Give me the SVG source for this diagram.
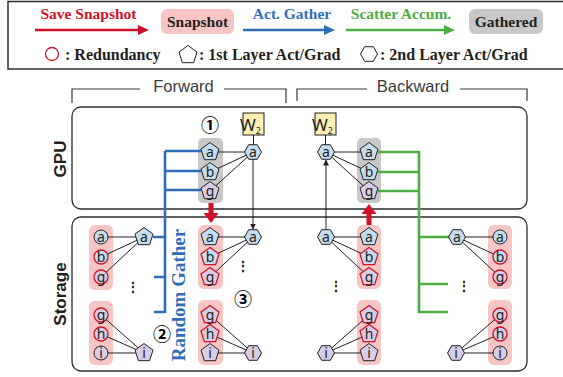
<svg xmlns="http://www.w3.org/2000/svg" xmlns:xlink="http://www.w3.org/1999/xlink" width="563" height="377" viewBox="0 0 563 377">
<style>
.frame{fill:none;stroke:#2b2b2b;stroke-width:1.3}
.brk{fill:none;stroke:#3a3a3a;stroke-width:1.2}
.lg{font-family:"Liberation Serif",serif;font-weight:bold;font-size:15.5px}
.lg2{font-family:"Liberation Serif",serif;font-weight:bold;font-size:16px;fill:#231f20}
.hd{font-family:"Liberation Sans",sans-serif;font-size:16.5px;fill:#3a3a3a}
.side{font-family:"Liberation Sans",sans-serif;font-weight:bold;font-size:17px;fill:#231f20}
.lbl{font-family:"Noto Sans","DejaVu Sans",sans-serif;font-size:14px;fill:#231f20;text-anchor:middle}
.num{font-family:"Noto Sans CJK JP","DejaVu Sans",sans-serif;font-weight:bold;font-size:18px;fill:#000;text-anchor:middle}
.dots{font-family:"Liberation Sans",sans-serif;font-weight:bold;font-size:14px;fill:#231f20;text-anchor:middle}
.pink{fill:#f7c5c3}
.gray{fill:#c8c8c8}
.nb{fill:#c3ddef}
.nl{fill:#d9cce6}
.sk{stroke:#231f20;stroke-width:1}
.sr{stroke:#d0112b;stroke-width:1.3}
.ln{stroke:#231f20;stroke-width:1;fill:none}
.blue{stroke:#2f6db7;stroke-width:2.6;fill:none}
.green{stroke:#4cad43;stroke-width:2.6;fill:none}
.w2{fill:#fdf0b4;stroke:#231f20;stroke-width:1}
.w2t{font-family:"Noto Sans","DejaVu Sans",sans-serif;font-size:17px;fill:#231f20}
</style>
<defs>
<polygon id="pent" points="0,-9.5 9,-2.9 5.6,7.7 -5.6,7.7 -9,-2.9"/>
<polygon id="hex" points="-8.5,0 -4.3,-7.3 4.3,-7.3 8.5,0 4.3,7.3 -4.3,7.3"/>
<circle id="circ" r="7"/>
<marker id="ah" markerWidth="6" markerHeight="6" refX="5.5" refY="3" orient="auto" markerUnits="userSpaceOnUse"><path d="M0,0 L6,3 L0,6 z" fill="#231f20"/></marker>
</defs>

<g id="legend">
<rect x="8" y="1.5" width="570" height="67.5" fill="none" stroke="#2b2b2b" stroke-width="1.5"/>
<text class="lg" x="88.5" y="19" text-anchor="middle" fill="#d0112b">Save Snapshot</text>
<line x1="35" y1="30" x2="140" y2="30" stroke="#d0112b" stroke-width="2.6"/>
<polygon points="138,25 149,30 138,35" fill="#d0112b"/>
<rect x="161" y="9" width="73" height="25" rx="6" class="pink"/>
<text class="lg" x="197.5" y="26.5" text-anchor="middle" fill="#231f20">Snapshot</text>
<text class="lg" x="292" y="19" text-anchor="middle" fill="#2f6db7">Act. Gather</text>
<line x1="243" y1="30" x2="326" y2="30" stroke="#2f6db7" stroke-width="2.6"/>
<polygon points="324,25 335,30 324,35" fill="#2f6db7"/>
<text class="lg" x="401" y="19" text-anchor="middle" fill="#4cad43">Scatter Accum.</text>
<line x1="346" y1="30" x2="446" y2="30" stroke="#4cad43" stroke-width="2.6"/>
<polygon points="444,25 455,30 444,35" fill="#4cad43"/>
<rect x="469" y="9" width="74" height="25" rx="6" class="gray"/>
<text class="lg" x="506" y="26.5" text-anchor="middle" fill="#231f20">Gathered</text>
<circle cx="52" cy="54" r="6.5" fill="none" stroke="#d0112b" stroke-width="1.3"/>
<text class="lg2" x="65" y="59.5">: Redundancy</text>
<use xlink:href="#pent" x="188" y="55" fill="none" stroke="#231f20" stroke-width="1"/>
<text class="lg2" x="199" y="59.5">: 1st Layer Act/Grad</text>
<use xlink:href="#hex" x="369" y="54" fill="none" stroke="#231f20" stroke-width="1"/>
<text class="lg2" x="380" y="59.5">: 2nd Layer Act/Grad</text>
</g>

<g id="headers">
<path class="brk" d="M72,103 V89 H140 M224,89 H286 V103"/>
<text class="hd" x="183.5" y="92" text-anchor="middle">Forward</text>
<path class="brk" d="M297,101 V89 H367 M460,89 H527 V101"/>
<text class="hd" x="413" y="92" text-anchor="middle">Backward</text>
</g>

<g id="gpu">
<rect class="frame" x="72" y="107" width="455" height="102" rx="9"/>
<text class="side" transform="translate(66,159) rotate(-90)" text-anchor="middle">GPU</text>
</g>
<g id="storage">
<rect class="frame" x="72" y="217" width="455" height="154" rx="9"/>
<text class="side" transform="translate(66,294) rotate(-90)" text-anchor="middle">Storage</text>
</g>

<g id="groups">
<rect x="198" y="138" width="25" height="65" rx="5" class="gray"/>
<rect x="357" y="138" width="24" height="65" rx="5" class="gray"/>
<rect x="89" y="225" width="24" height="65" rx="6" class="pink"/>
<rect x="89" y="301" width="24" height="64" rx="6" class="pink"/>
<rect x="198" y="225" width="25" height="64" rx="6" class="pink"/>
<rect x="198" y="300" width="25" height="65" rx="6" class="pink"/>
<rect x="357" y="225" width="24" height="64" rx="6" class="pink"/>
<rect x="357" y="300" width="24" height="65" rx="6" class="pink"/>
<rect x="488" y="225" width="24" height="64" rx="6" class="pink"/>
<rect x="488" y="300" width="24" height="65" rx="6" class="pink"/>
</g>

<g id="connectors">
<path class="ln" d="M253,152 L210,152 M253,152 L210,172 M253,152 L210,191"/>
<line class="ln" x1="253.5" y1="135" x2="253.5" y2="145"/>
<line class="ln" x1="253" y1="159" x2="253" y2="229" marker-end="url(#ah)"/>
<path class="ln" d="M326,152 L369,152 M326,152 L369,172 M326,152 L369,191"/>
<line class="ln" x1="325.5" y1="135" x2="325.5" y2="145"/>
<line class="ln" x1="326" y1="230" x2="326" y2="160" marker-end="url(#ah)"/>
<path class="ln" d="M144,237 L101,237 M144,237 L101,257 M144,237 L101,277"/>
<path class="ln" d="M144,353 L101,315 M144,353 L101,334 M144,353 L101,353"/>
<path class="ln" d="M253,237 L210,237 M253,237 L210,257 M253,237 L210,277"/>
<path class="ln" d="M253,353 L210,315 M253,353 L210,334 M253,353 L210,353"/>
<path class="ln" d="M326,237 L369,237 M326,237 L369,257 M326,237 L369,277"/>
<path class="ln" d="M326,353 L369,315 M326,353 L369,334 M326,353 L369,353"/>
<path class="ln" d="M457,237 L500,237 M457,237 L500,257 M457,237 L500,277"/>
<path class="ln" d="M456,353 L500,315 M456,353 L500,334 M456,353 L500,353"/>
<path class="blue" d="M165,151 V313 M165,151 H201 M165,171 H201 M165,190 H201 M153,237 H165 M154,277 H165 M154,312 H165"/>
<path class="green" d="M378,152 H419 M378,172 H419 M378,191 H419 M419,151 V313 M419,237 H449 M419,284 H448 M419,312 H448"/>
<rect x="208.5" y="203" width="5" height="11" fill="#d0112b"/>
<polygon points="203.5,213 218.5,213 211,223" fill="#d0112b"/>
<rect x="366.5" y="213" width="5" height="12" fill="#d0112b"/>
<polygon points="361.5,214 376.5,214 369,204" fill="#d0112b"/>
</g>

<g id="w2-fwd"><rect class="w2" x="243" y="113" width="21" height="22"/><text class="w2t" x="250.5" y="130.5" text-anchor="middle">W<tspan font-size="9" dy="3">2</tspan></text></g>
<g id="w2-bwd"><rect class="w2" x="315" y="113" width="21" height="22"/><text class="w2t" x="322.5" y="130.5" text-anchor="middle">W<tspan font-size="9" dy="3">2</tspan></text></g>

<g id="fwd-gpu-a1"><use xlink:href="#pent" x="210" y="152" class="nb sk"/><text class="lbl" x="210" y="156.5">a</text></g>
<g id="fwd-gpu-b1"><use xlink:href="#pent" x="210" y="172" class="nb sk"/><text class="lbl" x="210" y="176.5">b</text></g>
<g id="fwd-gpu-g1"><use xlink:href="#pent" x="210" y="191" class="nl sk"/><text class="lbl" x="210" y="195.5">g</text></g>
<g id="fwd-gpu-a2"><use xlink:href="#hex" x="253" y="152" class="nb sk"/><text class="lbl" x="253" y="156.5">a</text></g>

<g id="bwd-gpu-a2"><use xlink:href="#hex" x="326" y="152" class="nb sk"/><text class="lbl" x="326" y="156.5">a</text></g>
<g id="bwd-gpu-a1"><use xlink:href="#pent" x="369" y="152" class="nb sk"/><text class="lbl" x="369" y="156.5">a</text></g>
<g id="bwd-gpu-b1"><use xlink:href="#pent" x="369" y="172" class="nb sk"/><text class="lbl" x="369" y="176.5">b</text></g>
<g id="bwd-gpu-g1"><use xlink:href="#pent" x="369" y="191" class="nl sk"/><text class="lbl" x="369" y="195.5">g</text></g>

<g id="st-left-a0"><use xlink:href="#circ" x="101" y="237" class="nb sk"/><text class="lbl" x="101" y="241.5">a</text></g>
<g id="st-left-b0"><use xlink:href="#circ" x="101" y="257" class="nb sr"/><text class="lbl" x="101" y="261.5">b</text></g>
<g id="st-left-g0"><use xlink:href="#circ" x="101" y="277" class="nl sr"/><text class="lbl" x="101" y="281.5">g</text></g>
<g id="st-left-g0b"><use xlink:href="#circ" x="101" y="315" class="nl sr"/><text class="lbl" x="101" y="319.5">g</text></g>
<g id="st-left-h0"><use xlink:href="#circ" x="101" y="334" class="nl sr"/><text class="lbl" x="101" y="338.5">h</text></g>
<g id="st-left-i0"><use xlink:href="#circ" x="101" y="353" class="nl sk"/><text class="lbl" x="101" y="357.5">i</text></g>
<g id="st-left-a1"><use xlink:href="#pent" x="144" y="237" class="nb sk"/><text class="lbl" x="144" y="241.5">a</text></g>
<g id="st-left-i1"><use xlink:href="#pent" x="144" y="353" class="nl sk"/><text class="lbl" x="144" y="357.5">i</text></g>

<g id="st-fwd-a1"><use xlink:href="#pent" x="210" y="237" class="nb sk"/><text class="lbl" x="210" y="241.5">a</text></g>
<g id="st-fwd-b1"><use xlink:href="#pent" x="210" y="257" class="nb sr"/><text class="lbl" x="210" y="261.5">b</text></g>
<g id="st-fwd-g1"><use xlink:href="#pent" x="210" y="277" class="nl sr"/><text class="lbl" x="210" y="281.5">g</text></g>
<g id="st-fwd-g1b"><use xlink:href="#pent" x="210" y="315" class="nl sr"/><text class="lbl" x="210" y="319.5">g</text></g>
<g id="st-fwd-h1"><use xlink:href="#pent" x="210" y="334" class="nl sr"/><text class="lbl" x="210" y="338.5">h</text></g>
<g id="st-fwd-i1"><use xlink:href="#pent" x="210" y="353" class="nl sk"/><text class="lbl" x="210" y="357.5">i</text></g>
<g id="st-fwd-a2"><use xlink:href="#hex" x="253" y="237" class="nb sk"/><text class="lbl" x="253" y="241.5">a</text></g>
<g id="st-fwd-i2"><use xlink:href="#hex" x="253" y="353" class="nl sk"/><text class="lbl" x="253" y="357.5">i</text></g>

<g id="st-bwd-a2"><use xlink:href="#hex" x="326" y="237" class="nb sk"/><text class="lbl" x="326" y="241.5">a</text></g>
<g id="st-bwd-i2"><use xlink:href="#hex" x="326" y="353" class="nl sk"/><text class="lbl" x="326" y="357.5">i</text></g>
<g id="st-bwd-a1"><use xlink:href="#pent" x="369" y="237" class="nb sk"/><text class="lbl" x="369" y="241.5">a</text></g>
<g id="st-bwd-b1"><use xlink:href="#pent" x="369" y="257" class="nb sr"/><text class="lbl" x="369" y="261.5">b</text></g>
<g id="st-bwd-g1"><use xlink:href="#pent" x="369" y="277" class="nl sr"/><text class="lbl" x="369" y="281.5">g</text></g>
<g id="st-bwd-g1b"><use xlink:href="#pent" x="369" y="315" class="nl sr"/><text class="lbl" x="369" y="319.5">g</text></g>
<g id="st-bwd-h1"><use xlink:href="#pent" x="369" y="334" class="nl sr"/><text class="lbl" x="369" y="338.5">h</text></g>
<g id="st-bwd-i1"><use xlink:href="#pent" x="369" y="353" class="nl sk"/><text class="lbl" x="369" y="357.5">i</text></g>

<g id="st-right-a2"><use xlink:href="#hex" x="457" y="237" class="nb sk"/><text class="lbl" x="457" y="241.5">a</text></g>
<g id="st-right-i2"><use xlink:href="#hex" x="456" y="353" class="nl sk"/><text class="lbl" x="456" y="357.5">i</text></g>
<g id="st-right-a0"><use xlink:href="#circ" x="500" y="237" class="nb sk"/><text class="lbl" x="500" y="241.5">a</text></g>
<g id="st-right-b0"><use xlink:href="#circ" x="500" y="257" class="nb sr"/><text class="lbl" x="500" y="261.5">b</text></g>
<g id="st-right-g0"><use xlink:href="#circ" x="500" y="277" class="nl sr"/><text class="lbl" x="500" y="281.5">g</text></g>
<g id="st-right-g0b"><use xlink:href="#circ" x="500" y="315" class="nl sr"/><text class="lbl" x="500" y="319.5">g</text></g>
<g id="st-right-h0"><use xlink:href="#circ" x="500" y="334" class="nl sr"/><text class="lbl" x="500" y="338.5">h</text></g>
<g id="st-right-i0"><use xlink:href="#circ" x="500" y="353" class="nl sk"/><text class="lbl" x="500" y="357.5">i</text></g>

<g id="annotations">
<text class="num" x="210" y="132">①</text>
<text class="num" x="162" y="341">②</text>
<text class="num" x="243" y="306">③</text>
<text class="dots" x="133" y="292">⋮</text>
<text class="dots" x="243" y="271">⋮</text>
<text class="dots" x="336" y="291">⋮</text>
<text class="dots" x="464" y="291">⋮</text>
<text transform="translate(185,295) rotate(-90)" text-anchor="middle" font-family="Liberation Serif,serif" font-weight="bold" font-size="19" fill="#2f6db7">Random Gather</text>
</g>
</svg>
